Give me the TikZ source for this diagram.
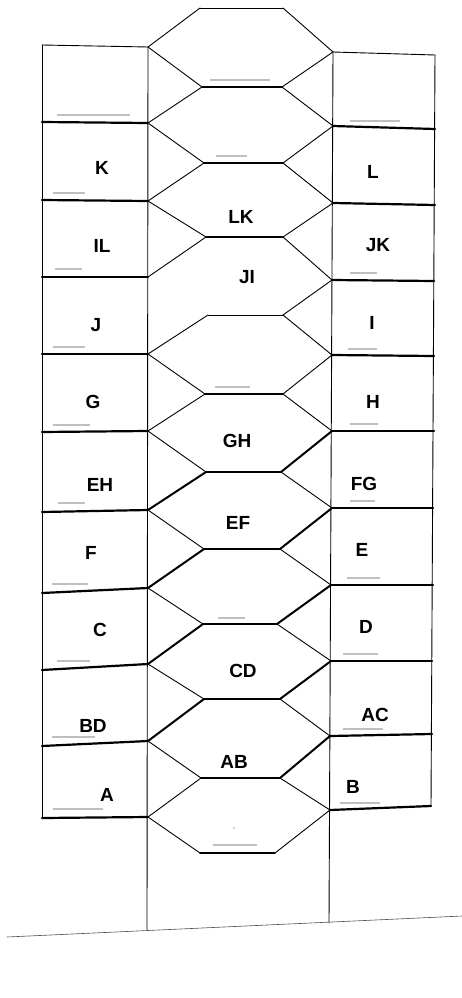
\documentclass[tikz,border=0pt]{standalone}
\usepackage{fontspec}
\setsansfont{Liberation Sans}

\begin{document}
\begin{tikzpicture}[x=1pt, y=-1pt, line width=0.9pt, line cap=round, line join=round,
  lbl/.style={anchor=center, inner sep=0pt, font=\fontsize{19}{22}\selectfont\sffamily\bfseries},
  tagmark/.style={line width=2.2pt, gray!50, line cap=butt}]

  %% ════ 竖线 + 底线 ════
  \draw (42,45) -- (42,818);
  \draw (148,47) -- (147,930);
  \draw (333,52) -- (329,923);
  \draw (435,55) -- (431,806);
  \draw[line width=0.6pt, black!70] (7,937) -- (462,916);

  %% ════ 左侧格线 ════
  \draw (42,45) -- (148,47);
  \draw[line width=2.2pt] (42,122) -- (148,123);
  \draw[line width=2.2pt] (42,200) -- (148,201);
  \draw[line width=2.2pt] (42,277) -- (148,277);
  \draw[line width=2.2pt] (42,354) -- (148,354);
  \draw[line width=2.2pt] (42,432) -- (148,431);
  \draw[line width=2.2pt] (42,512) -- (148,510);
  \draw[line width=2.2pt] (42,593) -- (148,588);
  \draw[line width=2.2pt] (42,670) -- (148,664);
  \draw[line width=2.2pt] (42,746) -- (148,741);
  \draw[line width=2.2pt] (42,818) -- (148,817);

  %% ════ 右侧格线 ════
  \draw (333,52) -- (435,55);
  \draw[line width=2.2pt] (333,126) -- (435,129);
  \draw[line width=2.2pt] (333,203) -- (435,205);
  \draw[line width=2.2pt] (332,280) -- (434,281);
  \draw[line width=2.2pt] (332,355) -- (434,356);
  \draw[line width=2.2pt] (332,431) -- (434,431);
  \draw[line width=2.2pt] (332,508) -- (433,508);
  \draw[line width=2.2pt] (331,585) -- (433,585);
  \draw[line width=2.2pt] (331,661) -- (432,661);
  \draw[line width=2.2pt] (330,736) -- (432,734);
  \draw[line width=2.2pt] (330,810) -- (431,806);

  %% ════ 中间六边形：横边 ════
  \draw (200,8) -- (283,8);
  \draw[line width=1.2pt] (202,87) -- (282,87);
  \draw[line width=2pt] (204,163) -- (283,163);
  \draw[line width=1.2pt] (206,237) -- (283,237);
  \draw[line width=1.0pt] (208,315) -- (283,315);
  \draw[line width=2pt] (205,394) -- (283,394);
  \draw[line width=1.4pt] (206,472) -- (281,472);
  \draw[line width=1.2pt] (204,549) -- (280,549);
  \draw[line width=2pt] (203,624) -- (277,624);
  \draw[line width=1.6pt] (204,699) -- (280,699);
  \draw[line width=2pt] (201,778) -- (280,778);
  \draw[line width=2pt] (200,853) -- (275,853);

  %% ════ 中间六边形：左斜边 ════
  \draw (148,47) -- (200,8);
  \draw (148,47) -- (202,87);
  \draw (148,123) -- (202,87);
  \draw (148,123) -- (204,163);
  \draw (148,201) -- (204,163);
  \draw (148,201) -- (206,237);
  \draw (148,277) -- (206,237);
  % JI 左下无边
  \draw (148,354) -- (208,315);
  \draw (148,354) -- (205,394);
  \draw (148,431) -- (205,394);
  \draw (148,431) -- (206,472);
  \draw[line width=2pt] (148,510) -- (206,472);
  \draw (148,510) -- (204,549);
  \draw[line width=2pt] (148,588) -- (204,549);
  \draw (148,588) -- (203,624);
  \draw[line width=2pt] (148,664) -- (203,624);
  \draw (148,664) -- (204,699);
  \draw[line width=2pt] (148,741) -- (204,699);
  \draw (148,741) -- (201,778);
  \draw (148,817) -- (201,778);
  \draw (148,817) -- (200,853);

  %% ════ 中间六边形：右斜边 ════
  \draw (333,52) -- (283,8);
  \draw (333,52) -- (282,87);
  \draw (333,126) -- (282,87);
  \draw (333,126) -- (283,163);
  \draw (333,203) -- (283,163);
  \draw (333,203) -- (283,237);
  \draw (332,280) -- (283,237);
  \draw (332,280) -- (283,315);
  \draw (332,355) -- (283,315);
  \draw (332,355) -- (283,394);
  \draw (332,431) -- (283,394);
  \draw[line width=2pt] (332,431) -- (281,472);
  \draw (332,508) -- (281,472);
  \draw[line width=2pt] (332,508) -- (280,549);
  \draw (331,585) -- (280,549);
  \draw[line width=2pt] (331,585) -- (277,624);
  \draw (331,661) -- (277,624);
  \draw[line width=2pt] (331,661) -- (280,699);
  \draw (330,736) -- (280,699);
  \draw[line width=2pt] (330,736) -- (280,778);
  \draw (330,810) -- (280,778);
  \draw (330,810) -- (275,853);

  %% ════ 小字（原图模糊，只画灰条）════
  \draw[tagmark] (210,80) -- (270,80);
  \draw[tagmark] (57,115) -- (130,115);
  \draw[tagmark] (350,121) -- (400,121);
  \draw[tagmark] (216,156) -- (247,156);
  \draw[tagmark] (53,193) -- (85,193);
  \draw[tagmark] (55,269) -- (82,269);
  \draw[tagmark] (350,273) -- (377,273);
  \draw[tagmark] (53,347) -- (85,347);
  \draw[tagmark] (348,349) -- (377,349);
  \draw[tagmark] (215,387) -- (250,387);
  \draw[tagmark] (53,425) -- (90,425);
  \draw[tagmark] (350,424) -- (378,424);
  \draw[tagmark] (58,503) -- (85,503);
  \draw[tagmark] (350,501) -- (375,501);
  \draw[tagmark] (52,584) -- (88,584);
  \draw[tagmark] (347,578) -- (380,578);
  \draw[tagmark] (218,618) -- (245,618);
  \draw[tagmark] (57,661) -- (90,661);
  \draw[tagmark] (343,654) -- (378,654);
  \draw[tagmark] (52,737) -- (95,737);
  \draw[tagmark] (343,729) -- (383,729);
  \draw[tagmark] (53,809) -- (103,809);
  \draw[tagmark] (340,803) -- (380,803);
  \draw[tagmark] (213,845) -- (257,845);
  \fill[gray!60] (234,828) circle (1pt);

  %% ════ 字母标签 ════
  \node[lbl] (K)  at (102,168) {K};
  \node[lbl] (L)  at (373,172) {L};
  \node[lbl] (LK) at (241,217) {LK};
  \node[lbl] (IL) at (102,246) {IL};
  \node[lbl] (JK) at (378,245) {JK};
  \node[lbl] (JI) at (247,277) {JI};
  \node[lbl] (J)  at (96,325)  {J};
  \node[lbl] (I)  at (372,323) {I};
  \node[lbl] (G)  at (93,402)  {G};
  \node[lbl] (H)  at (373,402) {H};
  \node[lbl] (GH) at (237,441) {GH};
  \node[lbl] (EH) at (100,485) {EH};
  \node[lbl] (FG) at (364,484) {FG};
  \node[lbl] (EF) at (238,523) {EF};
  \node[lbl] (F)  at (91,553)  {F};
  \node[lbl] (E)  at (362,550) {E};
  \node[lbl] (C)  at (100,630) {C};
  \node[lbl] (D)  at (366,627) {D};
  \node[lbl] (CD) at (243,671) {CD};
  \node[lbl] (BD) at (93,726)  {BD};
  \node[lbl] (AC) at (375,715) {AC};
  \node[lbl] (AB) at (234,762) {AB};
  \node[lbl] (A)  at (107,795) {A};
  \node[lbl] (B)  at (353,787) {B};

  % 固定画布
  \pgfresetboundingbox
  \path[use as bounding box] (0,0) rectangle (462,998);
\end{tikzpicture}
\end{document}
